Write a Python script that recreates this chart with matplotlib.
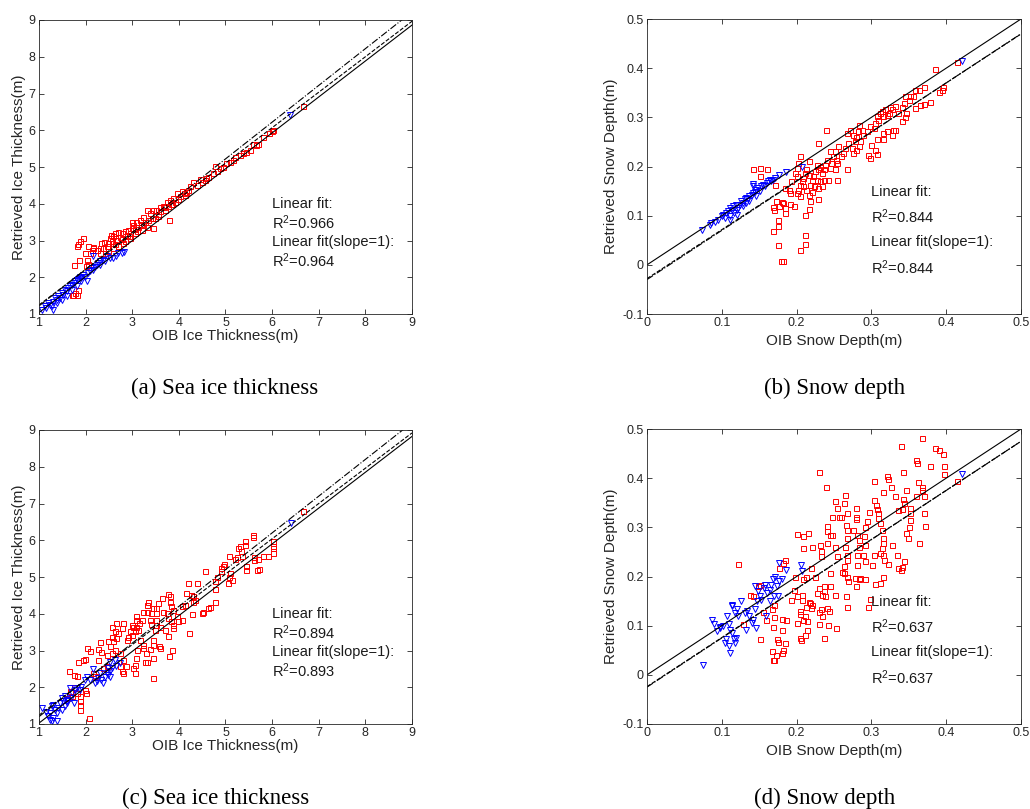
import numpy as np
import matplotlib
matplotlib.use("Agg")
import matplotlib.pyplot as plt

plt.rcParams['font.family'] = ['Liberation Sans', 'DejaVu Sans']
plt.rcParams['mathtext.fontset'] = 'custom'
plt.rcParams['mathtext.rm'] = 'Liberation Sans'
plt.rcParams['mathtext.it'] = 'Liberation Sans:italic'
plt.rcParams['axes.unicode_minus'] = False

# ---- panel (a): sea ice thickness (OIB, retrieved)
a_red = np.array([
    (6.66, 6.66), (6.02, 6.01), (5.99, 5.97), (5.94, 5.92), (5.81, 5.81), (5.70, 5.63),
    (5.66, 5.60), (5.59, 5.63), (5.45, 5.42), (5.38, 5.38), (5.31, 5.32), (5.20, 5.27),
    (5.09, 5.13), (5.02, 5.10), (4.95, 5.01), (4.88, 4.97), (4.77, 5.04), (4.74, 4.83),
    (4.59, 4.70), (4.56, 4.65), (4.45, 4.67), (4.31, 4.58), (4.24, 4.47), (4.16, 4.31),
    (4.06, 4.36), (3.95, 4.29), (3.88, 4.15), (3.81, 4.11), (3.74, 4.06), (3.77, 3.94),
    (3.84, 4.00), (4.02, 4.20), (3.66, 3.94), (3.59, 3.90), (3.52, 3.82), (3.45, 3.84),
    (3.31, 3.82), (3.38, 3.75), (3.49, 3.61), (3.45, 3.34), (3.79, 3.55), (3.24, 3.65),
    (3.16, 3.56), (3.09, 3.49), (3.02, 3.43), (2.99, 3.34), (2.91, 3.29), (2.84, 3.25),
    (2.77, 3.20), (2.70, 3.22), (2.74, 3.09), (2.66, 3.02), (2.59, 3.11), (2.56, 2.98),
    (2.49, 2.93), (2.45, 2.84), (2.38, 2.79), (2.31, 2.79), (2.24, 2.75), (2.16, 2.82),
    (2.13, 2.75), (2.09, 2.66), (3.13, 3.38), (3.24, 3.43), (3.34, 3.56), (2.88, 3.16),
    (2.63, 3.20), (2.52, 3.07), (2.34, 2.93), (2.31, 2.66), (2.41, 2.66), (2.59, 2.79),
    (2.70, 2.84), (2.81, 2.93), (2.95, 3.07), (3.06, 3.20), (3.20, 3.29), (3.31, 3.38),
    (3.56, 3.67), (3.70, 3.84), (3.91, 4.06), (4.13, 4.24), (4.38, 4.52), (4.63, 4.74),
    (4.81, 4.88), (5.16, 5.19), (5.52, 5.47), (1.84, 2.90), (1.88, 2.98), (1.94, 3.07),
    (1.81, 2.84), (1.85, 2.48), (1.75, 2.34), (2.04, 2.46), (2.06, 2.37), (2.01, 2.30),
    (1.70, 1.53), (1.81, 1.53), (1.84, 1.66), (1.77, 1.57), (1.72, 1.53), (2.06, 2.84),
    (2.16, 2.80), (1.99, 2.66), (2.95, 3.20), (3.60, 3.80), (4.10, 4.28), (4.50, 4.60),
    (2.62, 2.90), (2.78, 3.05), (2.93, 3.12), (3.05, 3.30), (3.18, 3.45), (3.28, 3.50),
    (3.42, 3.62), (3.55, 3.72), (3.68, 3.92), (3.86, 3.98), (3.98, 4.12), (4.20, 4.38),
    (2.48, 2.72), (2.85, 3.00), (3.10, 3.25), (2.40, 2.95), (2.55, 3.15), (3.00, 3.50),
])
a_blue = np.array([
    (1.06, 1.12), (1.13, 1.21), (1.20, 1.30), (1.24, 1.25), (1.31, 1.34), (1.34, 1.43),
    (1.38, 1.39), (1.41, 1.48), (1.45, 1.43), (1.49, 1.57), (1.52, 1.53), (1.56, 1.66),
    (1.59, 1.62), (1.63, 1.71), (1.66, 1.75), (1.70, 1.80), (1.74, 1.84), (1.77, 1.89),
    (1.81, 1.92), (1.84, 1.95), (1.88, 2.02), (1.91, 1.98), (1.95, 2.07), (1.99, 2.02),
    (2.04, 1.89), (2.06, 2.11), (2.09, 2.16), (2.16, 2.20), (2.20, 2.29), (2.24, 2.34),
    (2.27, 2.38), (2.16, 2.57), (2.31, 2.43), (2.38, 2.48), (2.45, 2.57), (2.52, 2.52),
    (2.59, 2.52), (2.66, 2.57), (2.70, 2.66), (2.77, 2.66), (2.82, 2.68), (6.38, 6.42),
    (1.16, 1.16), (1.27, 1.21), (1.38, 1.30), (1.49, 1.39), (1.59, 1.48), (1.70, 1.66),
    (1.81, 1.75), (1.91, 1.89), (1.31, 1.12), (2.13, 2.25), (2.31, 2.34), (2.41, 2.43),
])

# ---- panel (b): snow depth
b_red = np.array([
    (0.385, 0.399), (0.414, 0.412), (0.396, 0.362), (0.395, 0.355), (0.390, 0.351),
    (0.379, 0.331), (0.370, 0.362), (0.363, 0.356), (0.358, 0.355), (0.355, 0.344),
    (0.370, 0.328), (0.358, 0.319), (0.352, 0.343), (0.350, 0.336), (0.345, 0.343),
    (0.343, 0.329), (0.341, 0.322), (0.336, 0.309), (0.345, 0.301), (0.341, 0.292),
    (0.329, 0.275), (0.327, 0.265), (0.321, 0.272), (0.315, 0.269), (0.307, 0.255),
    (0.300, 0.244), (0.296, 0.224), (0.298, 0.217), (0.325, 0.322), (0.323, 0.309),
    (0.318, 0.316), (0.314, 0.312), (0.312, 0.309), (0.308, 0.302), (0.309, 0.294),
    (0.305, 0.288), (0.316, 0.302), (0.321, 0.305), (0.327, 0.316), (0.331, 0.324),
    (0.303, 0.278), (0.298, 0.282), (0.294, 0.272), (0.288, 0.275), (0.289, 0.265),
    (0.284, 0.285), (0.282, 0.272), (0.280, 0.261), (0.278, 0.251), (0.285, 0.251),
    (0.284, 0.241), (0.279, 0.234), (0.276, 0.227), (0.274, 0.238), (0.269, 0.248),
    (0.267, 0.268), (0.271, 0.275), (0.275, 0.265), (0.265, 0.238), (0.262, 0.227),
    (0.259, 0.221), (0.256, 0.241), (0.251, 0.231), (0.253, 0.214), (0.254, 0.207),
    (0.248, 0.221), (0.245, 0.231), (0.246, 0.207), (0.244, 0.197), (0.240, 0.214),
    (0.238, 0.204), (0.236, 0.194), (0.234, 0.187), (0.231, 0.200), (0.227, 0.204),
    (0.229, 0.194), (0.225, 0.190), (0.222, 0.180), (0.220, 0.173), (0.218, 0.163),
    (0.216, 0.183), (0.213, 0.194), (0.211, 0.187), (0.209, 0.177), (0.207, 0.170),
    (0.204, 0.163), (0.202, 0.153), (0.200, 0.146), (0.204, 0.139), (0.198, 0.187),
    (0.200, 0.180), (0.209, 0.160), (0.213, 0.153), (0.216, 0.143), (0.220, 0.149),
    (0.227, 0.173), (0.231, 0.170), (0.236, 0.173), (0.223, 0.160), (0.229, 0.156),
    (0.234, 0.160), (0.242, 0.173), (0.251, 0.194), (0.254, 0.173), (0.267, 0.194),
    (0.239, 0.275), (0.229, 0.248), (0.305, 0.234), (0.308, 0.226), (0.316, 0.255),
    (0.331, 0.275), (0.346, 0.309), (0.365, 0.326), (0.142, 0.194), (0.151, 0.197),
    (0.151, 0.181), (0.160, 0.194), (0.171, 0.163), (0.169, 0.117), (0.170, 0.112),
    (0.173, 0.129), (0.177, 0.119), (0.180, 0.128), (0.182, 0.126), (0.185, 0.116),
    (0.185, 0.105), (0.191, 0.124), (0.196, 0.119), (0.191, 0.146), (0.190, 0.153),
    (0.184, 0.156), (0.169, 0.068), (0.175, 0.092), (0.175, 0.078), (0.175, 0.041),
    (0.179, 0.007), (0.182, 0.007), (0.204, 0.031), (0.211, 0.061), (0.211, 0.042),
    (0.218, 0.129), (0.216, 0.113), (0.211, 0.102), (0.229, 0.133), (0.193, 0.170),
    (0.200, 0.197), (0.202, 0.207), (0.216, 0.211), (0.204, 0.221),
])
b_blue = np.array([
    (0.074, 0.071), (0.084, 0.082), (0.086, 0.086), (0.091, 0.088), (0.095, 0.092),
    (0.100, 0.099), (0.102, 0.102), (0.104, 0.095), (0.106, 0.105), (0.108, 0.109),
    (0.111, 0.099), (0.111, 0.116), (0.113, 0.112), (0.115, 0.119), (0.116, 0.105),
    (0.119, 0.122), (0.120, 0.112), (0.122, 0.116), (0.124, 0.122), (0.126, 0.129),
    (0.129, 0.126), (0.131, 0.133), (0.133, 0.136), (0.135, 0.133), (0.137, 0.139),
    (0.140, 0.143), (0.142, 0.146), (0.144, 0.149), (0.146, 0.153), (0.149, 0.156),
    (0.151, 0.151), (0.153, 0.160), (0.155, 0.163), (0.158, 0.160), (0.160, 0.166),
    (0.162, 0.170), (0.164, 0.173), (0.166, 0.170), (0.169, 0.173), (0.171, 0.177),
    (0.129, 0.119), (0.133, 0.126), (0.111, 0.092), (0.142, 0.160), (0.142, 0.164),
    (0.176, 0.183), (0.186, 0.188), (0.207, 0.200), (0.421, 0.414), (0.120, 0.102),
    (0.137, 0.129), (0.146, 0.139),
])

# ---- panel (c): sea ice thickness, second case
c_red = np.array([
    (6.66, 6.80), (6.01, 5.99), (6.01, 5.85), (6.01, 5.78), (6.02, 5.65), (5.91, 5.58),
    (5.81, 5.58), (5.70, 5.49), (5.72, 5.21), (5.68, 5.18), (5.59, 6.15), (5.59, 6.08),
    (5.61, 5.54), (5.62, 5.47), (5.41, 5.97), (5.41, 5.88), (5.31, 5.85), (5.27, 5.78),
    (5.34, 5.72), (5.36, 5.58), (5.45, 5.30), (5.45, 5.19), (5.24, 5.54), (5.20, 5.49),
    (5.08, 5.56), (5.09, 5.10), (5.08, 5.01), (5.06, 4.85), (5.13, 4.91), (4.96, 5.36),
    (4.95, 5.29), (4.91, 5.24), (4.91, 5.15), (4.82, 5.01), (4.77, 4.88), (4.77, 4.67),
    (4.77, 4.33), (4.57, 5.15), (4.66, 4.18), (4.63, 4.15), (4.52, 4.06), (4.49, 4.02),
    (4.38, 4.83), (4.20, 4.83), (4.16, 4.56), (4.27, 4.52), (4.31, 4.47), (4.34, 4.38),
    (4.29, 3.98), (4.22, 3.47), (4.31, 4.31), (4.13, 4.24), (4.06, 4.20), (4.06, 3.83),
    (3.99, 3.79), (3.95, 3.93), (3.88, 4.11), (3.81, 4.33), (3.77, 4.54), (3.81, 4.47),
    (3.84, 4.20), (3.74, 4.02), (3.77, 3.88), (3.84, 3.79), (3.88, 3.70), (3.88, 3.61),
    (3.77, 3.40), (3.70, 3.56), (3.66, 4.06), (3.63, 4.42), (3.56, 4.29), (3.52, 4.15),
    (3.52, 4.02), (3.51, 3.84), (3.52, 3.70), (3.59, 3.65), (3.58, 3.13), (3.59, 3.07),
    (3.86, 3.02), (3.79, 2.84), (3.45, 4.15), (3.41, 4.02), (3.34, 4.33), (3.31, 4.24),
    (3.39, 3.84), (3.41, 3.73), (3.49, 3.56), (3.45, 3.29), (3.45, 3.16), (3.38, 3.04),
    (3.45, 2.79), (3.45, 2.25), (3.31, 4.06), (3.24, 4.06), (3.20, 3.84), (3.15, 3.75),
    (3.09, 3.65), (3.13, 3.56), (3.02, 3.65), (3.06, 3.52), (2.99, 3.70), (2.95, 3.54),
    (2.91, 3.38), (2.88, 3.29), (2.99, 3.43), (3.09, 3.83), (3.08, 3.93), (3.16, 3.29),
    (3.22, 3.16), (3.24, 3.07), (3.29, 2.93), (3.27, 2.68), (3.31, 2.68), (3.11, 3.02),
    (3.08, 2.79), (3.06, 2.61), (3.01, 2.52), (3.06, 2.39), (2.81, 3.75), (2.77, 3.61),
    (2.70, 3.47), (2.66, 3.34), (2.59, 3.25), (2.56, 3.38), (2.49, 3.25), (2.52, 3.11),
    (2.63, 3.02), (2.74, 2.93), (2.81, 2.75), (2.86, 2.57), (2.81, 2.39), (2.77, 2.43),
    (2.74, 2.57), (2.56, 2.93), (2.45, 2.88), (2.34, 2.97), (2.31, 3.22), (2.27, 2.75),
    (2.27, 3.04), (2.45, 2.57), (2.38, 2.52), (2.16, 2.39), (2.04, 3.07), (2.09, 3.00),
    (1.99, 2.77), (1.95, 2.75), (1.84, 2.68), (1.65, 2.43), (1.74, 2.34), (1.81, 2.31),
    (1.99, 1.93), (2.01, 1.84), (1.88, 1.75), (1.87, 1.62), (1.88, 1.53), (1.89, 1.39),
    (2.08, 1.16), (1.81, 1.84), (1.75, 2.02), (1.66, 1.89), (1.59, 1.71), (1.70, 1.75),
    (2.20, 2.31), (2.56, 3.65), (2.63, 3.52), (2.66, 3.75),
])
c_blue = np.array([
    (1.07, 1.43), (1.19, 1.21), (1.24, 1.12), (1.27, 1.07), (1.31, 1.16), (1.24, 1.30),
    (1.27, 1.48), (1.31, 1.53), (1.34, 1.39), (1.38, 1.30), (1.41, 1.43), (1.45, 1.57),
    (1.49, 1.71), (1.52, 1.62), (1.56, 1.75), (1.59, 1.62), (1.63, 1.66), (1.66, 1.98),
    (1.70, 1.84), (1.74, 1.57), (1.77, 1.93), (1.81, 1.98), (1.88, 1.93), (1.99, 2.20),
    (2.02, 2.29), (2.09, 2.20), (2.16, 2.50), (2.20, 2.11), (2.24, 2.16), (2.27, 2.25),
    (2.31, 2.39), (2.34, 2.20), (2.41, 2.29), (2.45, 2.39), (2.49, 2.34), (2.52, 2.43),
    (2.56, 2.52), (2.52, 2.70), (2.63, 2.75), (2.74, 2.66), (2.66, 2.57), (2.52, 2.29),
    (1.49, 1.39), (1.56, 1.48), (1.16, 1.34), (1.38, 1.07), (1.59, 1.57), (6.41, 6.46),
    (2.38, 2.11), (2.49, 2.52), (1.68, 1.71), (1.91, 2.02),
])

# ---- panel (d): snow depth, second case
d_red = np.array([
    (0.368, 0.482), (0.340, 0.466), (0.385, 0.461), (0.390, 0.458), (0.396, 0.449),
    (0.397, 0.425), (0.397, 0.408), (0.378, 0.425), (0.360, 0.436), (0.361, 0.431),
    (0.342, 0.413), (0.230, 0.413), (0.239, 0.383), (0.303, 0.394), (0.321, 0.404),
    (0.322, 0.399), (0.326, 0.382), (0.315, 0.371), (0.331, 0.363), (0.346, 0.375),
    (0.362, 0.392), (0.367, 0.383), (0.368, 0.375), (0.370, 0.364), (0.359, 0.364),
    (0.342, 0.358), (0.335, 0.336), (0.341, 0.337), (0.351, 0.339), (0.352, 0.330),
    (0.370, 0.329), (0.371, 0.302), (0.363, 0.268), (0.349, 0.278), (0.346, 0.288),
    (0.350, 0.301), (0.352, 0.314), (0.344, 0.349), (0.304, 0.356), (0.306, 0.346),
    (0.308, 0.337), (0.309, 0.329), (0.309, 0.319), (0.311, 0.309), (0.314, 0.295),
    (0.316, 0.278), (0.315, 0.268), (0.314, 0.258), (0.312, 0.248), (0.315, 0.244),
    (0.317, 0.234), (0.322, 0.226), (0.327, 0.265), (0.334, 0.244), (0.336, 0.217),
    (0.341, 0.220), (0.344, 0.231), (0.339, 0.214), (0.297, 0.332), (0.294, 0.312),
    (0.292, 0.301), (0.290, 0.282), (0.291, 0.265), (0.289, 0.244), (0.292, 0.231),
    (0.301, 0.224), (0.303, 0.244), (0.305, 0.185), (0.311, 0.187), (0.315, 0.200),
    (0.296, 0.137), (0.298, 0.154), (0.279, 0.339), (0.280, 0.322), (0.279, 0.316),
    (0.276, 0.295), (0.281, 0.285), (0.283, 0.275), (0.284, 0.261), (0.281, 0.244),
    (0.281, 0.223), (0.278, 0.197), (0.283, 0.194), (0.285, 0.197), (0.291, 0.195),
    (0.279, 0.181), (0.265, 0.366), (0.264, 0.349), (0.267, 0.329), (0.266, 0.305),
    (0.267, 0.295), (0.268, 0.278), (0.265, 0.261), (0.267, 0.244), (0.267, 0.234),
    (0.263, 0.221), (0.261, 0.210), (0.263, 0.207), (0.268, 0.200), (0.269, 0.190),
    (0.266, 0.160), (0.267, 0.138), (0.252, 0.353), (0.254, 0.339), (0.257, 0.322),
    (0.260, 0.322), (0.247, 0.322), (0.247, 0.285), (0.251, 0.261), (0.254, 0.241),
    (0.252, 0.163), (0.253, 0.095), (0.245, 0.285), (0.240, 0.302), (0.241, 0.292),
    (0.232, 0.251), (0.232, 0.241), (0.231, 0.265), (0.241, 0.268), (0.245, 0.207),
    (0.245, 0.180), (0.237, 0.180), (0.236, 0.170), (0.230, 0.177), (0.227, 0.166),
    (0.234, 0.163), (0.238, 0.160), (0.232, 0.133), (0.230, 0.128), (0.241, 0.135),
    (0.243, 0.130), (0.236, 0.075), (0.242, 0.101), (0.230, 0.104), (0.234, 0.120),
    (0.209, 0.258), (0.200, 0.286), (0.209, 0.282), (0.215, 0.289), (0.221, 0.261),
    (0.224, 0.200), (0.219, 0.217), (0.213, 0.200), (0.209, 0.194), (0.207, 0.163),
    (0.216, 0.149), (0.218, 0.146), (0.220, 0.143), (0.219, 0.136), (0.213, 0.138),
    (0.205, 0.129), (0.204, 0.123), (0.209, 0.112), (0.211, 0.119), (0.214, 0.110),
    (0.200, 0.105), (0.204, 0.075), (0.206, 0.071), (0.211, 0.081), (0.214, 0.092),
    (0.207, 0.153), (0.200, 0.160), (0.196, 0.173), (0.193, 0.153), (0.198, 0.200),
    (0.184, 0.234), (0.182, 0.228), (0.177, 0.218), (0.186, 0.112), (0.181, 0.113),
    (0.180, 0.091), (0.184, 0.064), (0.182, 0.051), (0.180, 0.044), (0.174, 0.073),
    (0.175, 0.066), (0.167, 0.048), (0.168, 0.030), (0.170, 0.030), (0.172, 0.041),
    (0.168, 0.097), (0.170, 0.117), (0.159, 0.112), (0.151, 0.072), (0.155, 0.127),
    (0.151, 0.183), (0.149, 0.180), (0.138, 0.163), (0.142, 0.160), (0.129, 0.104),
    (0.121, 0.226), (0.167, 0.133), (0.170, 0.143), (0.414, 0.394),
])
d_blue = np.array([
    (0.421, 0.408), (0.0745, 0.019), (0.087, 0.111), (0.089, 0.104), (0.094, 0.090),
    (0.098, 0.095), (0.102, 0.099), (0.107, 0.119), (0.109, 0.103), (0.111, 0.092),
    (0.106, 0.072), (0.104, 0.065), (0.110, 0.059), (0.111, 0.044), (0.116, 0.072),
    (0.117, 0.064), (0.119, 0.075), (0.113, 0.086), (0.113, 0.143), (0.114, 0.139),
    (0.117, 0.126), (0.120, 0.133), (0.122, 0.119), (0.126, 0.150), (0.131, 0.126),
    (0.134, 0.129), (0.137, 0.119), (0.140, 0.105), (0.142, 0.112), (0.144, 0.133),
    (0.147, 0.150), (0.145, 0.180), (0.149, 0.170), (0.151, 0.160), (0.153, 0.153),
    (0.156, 0.177), (0.158, 0.183), (0.160, 0.166), (0.164, 0.173), (0.166, 0.183),
    (0.169, 0.194), (0.171, 0.198), (0.174, 0.180), (0.175, 0.160), (0.170, 0.160),
    (0.164, 0.150), (0.159, 0.119), (0.146, 0.095), (0.176, 0.227), (0.186, 0.214),
    (0.206, 0.223), (0.207, 0.211), (0.177, 0.190), (0.180, 0.194), (0.133, 0.092),
    (0.098, 0.098),
])

# fitted lines: (slope, intercept) for solid / dashed / dash-dot
a_fits = [(0.978, 0.06), (0.965, 0.28), (1.0, 0.22)]
b_fits = [(1.0, 0.0), (0.995, -0.028), (1.0, -0.030)]
c_fits = [(0.975, 0.05), (0.96, 0.28), (1.0, 0.20)]
d_fits = [(1.0, 0.0), (0.998, -0.024), (1.0, -0.025)]

ice_ticks = [1, 2, 3, 4, 5, 6, 7, 8, 9]
snow_xticks = [0, 0.1, 0.2, 0.3, 0.4, 0.5]
snow_yticks = [-0.1, 0, 0.1, 0.2, 0.3, 0.4, 0.5]
snow_xlabels = ['0', '0.1', '0.2', '0.3', '0.4', '0.5']
snow_ylabels = ['-0.1', '0', '0.1', '0.2', '0.3', '0.4', '0.5']

a_r2 = ['0.966', '0.964']
b_r2 = ['0.844', '0.844']
c_r2 = ['0.894', '0.893']
d_r2 = ['0.637', '0.637']

captions = ['(a) Sea ice thickness', '(b) Snow depth',
            '(c) Sea ice thickness', '(d) Snow depth']

W, H = 1030, 809
fig = plt.figure(figsize=(W / 100, H / 100), dpi=100)
gray = '#262626'


def px_axes(l, t, r, b):
    return fig.add_axes([l / W, 1 - b / H, (r - l) / W, (b - t) / H])


def panel(ax, red, blue, fits, r2, snow):
    ax.plot(red[:, 0], red[:, 1], 's', ms=3.6, mfc='none', mec='#ff0000', mew=0.7)
    ax.plot(blue[:, 0], blue[:, 1], 'v', ms=4.6, mfc='none', mec='#0000ff', mew=0.7)
    if snow:
        xx = np.array([0, 0.5])
        ax.set_xlim(0, 0.5)
        ax.set_ylim(-0.1, 0.5)
        ax.set_xticks(snow_xticks)
        ax.set_xticklabels(snow_xlabels)
        ax.set_yticks(snow_yticks)
        ax.set_yticklabels(snow_ylabels)
        ax.set_xlabel('OIB Snow Depth(m)', fontsize=11, color=gray, labelpad=3)
        ax.set_ylabel('Retrieved Snow Depth(m)', fontsize=11, color=gray, labelpad=3)
        tx, ty, dy = 0.30, 0.148, 0.051
    else:
        xx = np.array([1, 9])
        ax.set_xlim(1, 9)
        ax.set_ylim(1, 9)
        ax.set_xticks(ice_ticks)
        ax.set_yticks(ice_ticks)
        ax.set_xlabel('OIB Ice Thickness(m)', fontsize=11, color=gray, labelpad=0)
        ax.set_ylabel('Retrieved Ice Thickness(m)', fontsize=11, color=gray, labelpad=2)
        tx, ty, dy = 6.0, 3.99, 0.51
    styles = ['-', '--', '-.']
    for (k, c), ls in zip(fits, styles):
        ax.plot(xx, k * xx + c, color='k', ls=ls, lw=0.8)
    lines = ['Linear fit:', 'R$^2$=' + r2[0], 'Linear fit(slope=1):', 'R$^2$=' + r2[1]]
    for i, s in enumerate(lines):
        ax.text(tx, ty - i * dy, s, fontsize=10.5, color='#1a1a1a', va='center', ha='left')
    ax.tick_params(direction='in', length=3.5, width=0.6, colors=gray, labelsize=9,
                   top=True, right=True, pad=2.5)
    for sp in ax.spines.values():
        sp.set_color(gray)
        sp.set_linewidth(0.6)


ax_a = px_axes(39, 20, 412, 314)
ax_b = px_axes(647, 19, 1021, 314)
ax_c = px_axes(39, 430, 412, 724)
ax_d = px_axes(647, 429, 1021, 724)

panel(ax_a, a_red, a_blue, a_fits, a_r2, False)
panel(ax_b, b_red, b_blue, b_fits, b_r2, True)
panel(ax_c, c_red, c_blue, c_fits, c_r2, False)
panel(ax_d, d_red, d_blue, d_fits, d_r2, True)

cap_pos = [(225, 388), (835, 388), (216, 798), (825, 798)]
for (cx, cy), s in zip(cap_pos, captions):
    fig.text(cx / W, 1 - cy / H, s, ha='center', va='center', fontsize=16.5,
             family='Liberation Serif', color='black')

fig.savefig('out.png', dpi=100)
